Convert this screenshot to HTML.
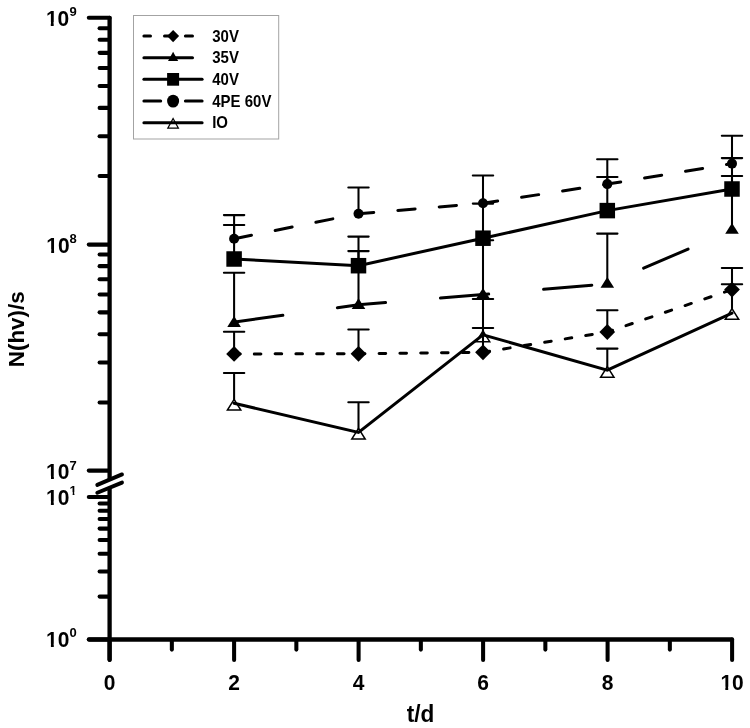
<!DOCTYPE html>
<html lang="en"><head><meta charset="utf-8"><title>N(hv)/s vs t/d</title>
<style>
html,body{margin:0;padding:0;background:#fff;}
body{width:750px;height:728px;overflow:hidden;}
svg{display:block;filter:blur(0.4px);}
text{font-family:"Liberation Sans",Arial,Helvetica,sans-serif;font-weight:bold;fill:#000;}
.tl{font-size:21px;}
.sup{font-size:13px;}
.lg{font-size:15px;}
.ax{font-size:22.6px;}
.axis{stroke:#000;stroke-width:4.3;fill:none;stroke-linecap:round;}
.tick{stroke:#000;stroke-width:4.05;fill:none;stroke-linecap:round;}
.eb{stroke:#000;stroke-width:2.05;fill:none;stroke-linecap:round;}
.ln{stroke:#000;stroke-width:3;fill:none;stroke-linejoin:miter;stroke-linecap:round;}
</style></head><body>
<svg width="750" height="728" viewBox="0 0 750 728">
<rect x="0" y="0" width="750" height="728" fill="#fff"/>

<g id="axes">
<line class="axis" x1="109.6" y1="17.90" x2="109.6" y2="659.8"/>
<line class="axis" x1="89" y1="639.5" x2="731.90" y2="639.5"/>
<line class="tick" x1="88.8" y1="17.80" x2="109.6" y2="17.80"/>
<line class="tick" x1="88.8" y1="244.60" x2="108.6" y2="244.60"/>
<line class="tick" x1="88.8" y1="470.60" x2="108.6" y2="470.60"/>
<line class="tick" x1="99.6" y1="176.05" x2="108.6" y2="176.05"/>
<line class="tick" x1="99.6" y1="136.18" x2="108.6" y2="136.18"/>
<line class="tick" x1="99.6" y1="107.89" x2="108.6" y2="107.89"/>
<line class="tick" x1="99.6" y1="85.95" x2="108.6" y2="85.95"/>
<line class="tick" x1="99.6" y1="68.03" x2="108.6" y2="68.03"/>
<line class="tick" x1="99.6" y1="52.87" x2="108.6" y2="52.87"/>
<line class="tick" x1="99.6" y1="39.74" x2="108.6" y2="39.74"/>
<line class="tick" x1="99.6" y1="28.16" x2="108.6" y2="28.16"/>
<line class="tick" x1="99.6" y1="402.45" x2="108.6" y2="402.45"/>
<line class="tick" x1="99.6" y1="362.58" x2="108.6" y2="362.58"/>
<line class="tick" x1="99.6" y1="334.29" x2="108.6" y2="334.29"/>
<line class="tick" x1="99.6" y1="312.35" x2="108.6" y2="312.35"/>
<line class="tick" x1="99.6" y1="294.43" x2="108.6" y2="294.43"/>
<line class="tick" x1="99.6" y1="279.27" x2="108.6" y2="279.27"/>
<line class="tick" x1="99.6" y1="266.14" x2="108.6" y2="266.14"/>
<line class="tick" x1="99.6" y1="254.56" x2="108.6" y2="254.56"/>
<line class="tick" x1="88.8" y1="497.00" x2="108.6" y2="497.00"/>
<line class="tick" x1="88.8" y1="639.50" x2="108.6" y2="639.50"/>
<line class="tick" x1="99.6" y1="596.60" x2="108.6" y2="596.60"/>
<line class="tick" x1="99.6" y1="571.51" x2="108.6" y2="571.51"/>
<line class="tick" x1="99.6" y1="553.71" x2="108.6" y2="553.71"/>
<line class="tick" x1="99.6" y1="539.90" x2="108.6" y2="539.90"/>
<line class="tick" x1="99.6" y1="528.61" x2="108.6" y2="528.61"/>
<line class="tick" x1="99.6" y1="519.07" x2="108.6" y2="519.07"/>
<line class="tick" x1="99.6" y1="510.81" x2="108.6" y2="510.81"/>
<line class="tick" x1="99.6" y1="503.52" x2="108.6" y2="503.52"/>
<line class="tick" x1="109.60" y1="640.5" x2="109.60" y2="659.9"/>
<line class="tick" x1="171.85" y1="640.5" x2="171.85" y2="649.6"/>
<line class="tick" x1="234.10" y1="640.5" x2="234.10" y2="659.9"/>
<line class="tick" x1="296.35" y1="640.5" x2="296.35" y2="649.6"/>
<line class="tick" x1="358.60" y1="640.5" x2="358.60" y2="659.9"/>
<line class="tick" x1="420.85" y1="640.5" x2="420.85" y2="649.6"/>
<line class="tick" x1="483.10" y1="640.5" x2="483.10" y2="659.9"/>
<line class="tick" x1="545.35" y1="640.5" x2="545.35" y2="649.6"/>
<line class="tick" x1="607.60" y1="640.5" x2="607.60" y2="659.9"/>
<line class="tick" x1="669.85" y1="640.5" x2="669.85" y2="649.6"/>
<line class="tick" x1="732.10" y1="639.5" x2="732.10" y2="659.9"/>
<polygon points="104,482 116,477.3 116,485.5 104,490.2" fill="#fff"/>
<line x1="97.3" y1="484.9" x2="122" y2="474.4" stroke="#000" stroke-width="3.9" stroke-linecap="round"/>
<line x1="97.3" y1="492.7" x2="122" y2="482.6" stroke="#000" stroke-width="3.9" stroke-linecap="round"/>
</g>
<g id="labels">
<text class="tl" transform="translate(45.9,25.6) scale(1,1.06)">10</text><text class="sup" x="69.6" y="15.7">9</text>
<rect x="46.02" y="21.93" width="4.78" height="4.47" fill="#fff"/>
<rect x="53.68" y="21.93" width="4.01" height="4.47" fill="#fff"/>
<text class="tl" transform="translate(46.3,252.8) scale(1,1.06)">10</text><text class="sup" x="69.6" y="242.7">8</text>
<rect x="46.42" y="249.13" width="4.78" height="4.47" fill="#fff"/>
<rect x="54.08" y="249.13" width="4.01" height="4.47" fill="#fff"/>
<text class="tl" transform="translate(46.1,479.4) scale(1,1.06)">10</text><text class="sup" x="69.6" y="469.5">7</text>
<rect x="46.22" y="475.73" width="4.78" height="4.47" fill="#fff"/>
<rect x="53.88" y="475.73" width="4.01" height="4.47" fill="#fff"/>
<text class="tl" transform="translate(46.0,504.9) scale(1,1.06)">10</text><text class="sup" x="69.6" y="494.9">1</text>
<rect x="46.12" y="501.23" width="4.78" height="4.47" fill="#fff"/>
<rect x="53.78" y="501.23" width="4.01" height="4.47" fill="#fff"/>
<rect x="69.22" y="492.17" width="3.42" height="3.53" fill="#fff"/>
<rect x="74.42" y="492.17" width="2.75" height="3.53" fill="#fff"/>
<text class="tl" transform="translate(46.0,647.4) scale(1,1.06)">10</text><text class="sup" x="69.6" y="637.4">0</text>
<rect x="46.12" y="643.73" width="4.78" height="4.47" fill="#fff"/>
<rect x="53.78" y="643.73" width="4.01" height="4.47" fill="#fff"/>
<text class="tl" transform="translate(109.6,690.4) scale(1,1.06)" text-anchor="middle">0</text>
<text class="tl" transform="translate(234.1,690.4) scale(1,1.06)" text-anchor="middle">2</text>
<text class="tl" transform="translate(358.6,690.4) scale(1,1.06)" text-anchor="middle">4</text>
<text class="tl" transform="translate(483.1,690.4) scale(1,1.06)" text-anchor="middle">6</text>
<text class="tl" transform="translate(607.6,690.4) scale(1,1.06)" text-anchor="middle">8</text>
<text class="tl" transform="translate(732.1,690.4) scale(1,1.06)" text-anchor="middle">10</text>
<rect x="720.54" y="686.73" width="4.78" height="4.47" fill="#fff"/>
<rect x="728.20" y="686.73" width="4.01" height="4.47" fill="#fff"/>
<text class="ax" transform="translate(420.5,722.2) scale(1,1.02)" text-anchor="middle">t/d</text>
<text class="ax" style="font-size:22.4px" transform="translate(23.5,329.3) rotate(-90) scale(1,1.01)" text-anchor="middle">N(hv)/s</text>
</g>
<g id="io">
<path class="eb" d="M234.1 403.3V372.9M223.9 372.9H244.3"/>
<path class="eb" d="M358.5 432.4V402.3M348.3 402.3H368.7"/>
<path class="eb" d="M483.0 334.8V299.0M472.8 299.0H493.2"/>
<path class="eb" d="M607.3 370.2V348.6M597.1 348.6H617.5"/>
<path class="eb" d="M732.0 313.1V284.3M721.8 284.3H742.2"/>
<polygon points="234.1,399.3 227.4,410.0 240.8,410.0" fill="#fff" stroke="#000" stroke-width="1.5"/>
<polygon points="358.5,428.4 351.8,439.1 365.2,439.1" fill="#fff" stroke="#000" stroke-width="1.5"/>
<polygon points="483.0,331.0 476.3,341.7 489.7,341.7" fill="#fff" stroke="#000" stroke-width="1.5"/>
<polygon points="607.3,366.6 600.6,377.3 614.0,377.3" fill="#fff" stroke="#000" stroke-width="1.5"/>
<polygon points="732.0,308.6 725.3,319.3 738.7,319.3" fill="#fff" stroke="#000" stroke-width="1.5"/>
<polyline class="ln" points="234.1,403.3 358.5,432.4 483.0,334.8 607.3,370.2 732.0,313.1"/>
</g>
<g id="s30">
<path class="eb" d="M234.1 353.9V331.8M223.9 331.8H244.3"/>
<path class="eb" d="M358.5 353.8V329.4M348.3 329.4H368.7"/>
<path class="eb" d="M483.0 352.3V327.9M472.8 327.9H493.2"/>
<path class="eb" d="M607.3 332.0V310.2M597.1 310.2H617.5"/>
<path class="eb" d="M732.0 289.6V267.9M721.8 267.9H742.2"/>
<polyline class="ln" stroke-dasharray="6.6 14.2" stroke-dashoffset="0.6" points="234.1,353.9 358.5,353.8 483.0,352.3 607.3,332.0 732.0,289.6"/>
<polygon points="234.1,346.0 241.9,353.9 234.1,361.8 226.2,353.9" fill="#000"/>
<polygon points="358.5,345.9 366.4,353.8 358.5,361.7 350.6,353.8" fill="#000"/>
<polygon points="483.0,344.4 490.9,352.3 483.0,360.2 475.1,352.3" fill="#000"/>
<polygon points="607.3,324.1 615.1,332.0 607.3,339.9 599.4,332.0" fill="#000"/>
<polygon points="732.0,281.8 739.9,289.6 732.0,297.5 724.1,289.6" fill="#000"/>
</g>
<g id="s35">
<path class="eb" d="M234.1 322.0V272.7M223.9 272.7H244.3"/>
<path class="eb" d="M358.5 304.8V236.6M348.3 236.6H368.7"/>
<path class="eb" d="M483.0 294.6V240.2M472.8 240.2H493.2"/>
<path class="eb" d="M607.3 283.8V233.6M597.1 233.6H617.5"/>
<path class="eb" d="M732.0 230.2V175.9M721.8 175.9H742.2"/>
<polyline class="ln" stroke-dasharray="48.4 55.1" stroke-dashoffset="-0.8" points="234.1,322.0 358.5,304.8 483.0,294.6 607.3,283.8 732.0,230.2"/>
<polygon points="234.1,316.1 240.9,326.9 227.3,326.9" fill="#000"/>
<polygon points="358.5,298.2 365.3,308.9 351.7,308.9" fill="#000"/>
<polygon points="483.0,287.9 489.8,298.6 476.2,298.6" fill="#000"/>
<polygon points="607.3,277.0 614.1,287.7 600.5,287.7" fill="#000"/>
<polygon points="732.0,223.1 738.8,233.8 725.2,233.8" fill="#000"/>
</g>
<g id="s40">
<path class="eb" d="M234.1 259.0V224.9M223.9 224.9H244.3"/>
<path class="eb" d="M358.5 265.7V251.1M348.3 251.1H368.7"/>
<path class="eb" d="M483.0 238.2V203.6M472.8 203.6H493.2"/>
<path class="eb" d="M607.3 210.6V177.0M597.1 177.0H617.5"/>
<path class="eb" d="M732.0 189.0V158.1M721.8 158.1H742.2"/>
<polyline class="ln" points="234.1,259.0 358.5,265.7 483.0,238.2 607.3,210.6 732.0,189.0"/>
<rect x="226.35" y="251.25" width="15.5" height="15.5" fill="#000"/>
<rect x="350.75" y="257.95" width="15.5" height="15.5" fill="#000"/>
<rect x="475.25" y="230.45" width="15.5" height="15.5" fill="#000"/>
<rect x="599.55" y="202.85" width="15.5" height="15.5" fill="#000"/>
<rect x="724.25" y="181.25" width="15.5" height="15.5" fill="#000"/>
</g>
<g id="s4pe">
<path class="eb" d="M234.1 238.8V215.1M223.9 215.1H244.3"/>
<path class="eb" d="M358.5 213.7V187.5M348.3 187.5H368.7"/>
<path class="eb" d="M483.0 203.2V175.5M472.8 175.5H493.2"/>
<path class="eb" d="M607.3 184.1V159.2M597.1 159.2H617.5"/>
<path class="eb" d="M732.0 163.6V135.7M721.8 135.7H742.2"/>
<polyline class="ln" stroke-dasharray="17.3 24.2" stroke-dashoffset="-0.4" points="234.1,238.8 358.5,213.7 483.0,203.2 607.3,184.1 732.0,163.6"/>
<circle cx="234.1" cy="238.8" r="5" fill="#000"/>
<circle cx="358.5" cy="213.7" r="5" fill="#000"/>
<circle cx="483.0" cy="203.2" r="5" fill="#000"/>
<circle cx="607.3" cy="184.1" r="5" fill="#000"/>
<circle cx="732.0" cy="163.6" r="5" fill="#000"/>
</g>
<g id="legend">
<rect x="133.5" y="15.5" width="145.2" height="123.5" fill="#fff" stroke="#a3a3a3" stroke-width="1"/>
<path class="ln" d="M143.9 36.1H150.5M164.5 36.1H175M185.4 36.1H192.5"/>
<polygon points="173.1,29.900000000000002 179.1,36.1 173.1,42.300000000000004 167.1,36.1" fill="#000"/>
<text class="lg" transform="translate(212.2,41.7) scale(1,1.15)">30V</text>
<path class="ln" d="M143.9 57.7H192.5"/>
<polygon points="173.1,51.8 178.2,61.1 168.0,61.1" fill="#000"/>
<text class="lg" transform="translate(212.2,63.3) scale(1,1.15)">35V</text>
<path class="ln" d="M143.9 79.2H202.1"/>
<rect x="167.1" y="73.0" width="12" height="12.7" fill="#000"/>
<text class="lg" transform="translate(212.2,84.8) scale(1,1.15)">40V</text>
<path class="ln" d="M143.9 100.9H160.7M185.4 100.9H202.1"/>
<ellipse cx="173.1" cy="101.1" rx="6" ry="6.4" fill="#000"/>
<text class="lg" transform="translate(212.2,106.5) scale(1,1.15)">4PE 60V</text>
<polygon points="173.1,118.5 178.4,128.1 167.8,128.1" fill="#fff" stroke="#000" stroke-width="1.2"/>
<path class="ln" d="M143.9 122.7H202.1"/>
<text class="lg" transform="translate(212.2,128.3) scale(1,1.15)">IO</text>
</g>
</svg>
</body></html>
